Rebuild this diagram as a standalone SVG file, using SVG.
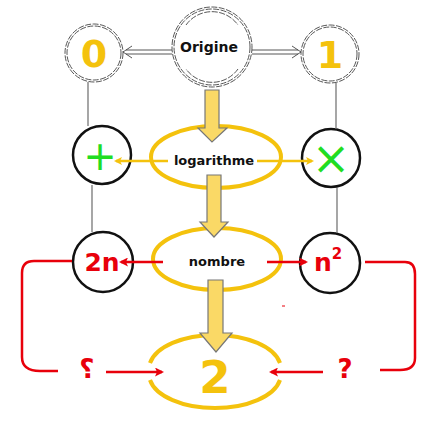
<svg xmlns="http://www.w3.org/2000/svg" width="447" height="424" viewBox="0 0 447 424">
<defs>
<style>
.dash{fill:none;stroke:#444;stroke-width:0.9;stroke-dasharray:6 1.5}
.gray{stroke:#777;stroke-width:1.3;fill:none}
.blk{fill:#fff;stroke:#111;stroke-width:2.5}
.yel{fill:none;stroke:#F4C20D;stroke-width:4}
.blockarrow{fill:#FAD966;stroke:#777;stroke-width:1.2}
.lbl{font-family:"DejaVu Sans",sans-serif;font-weight:bold;fill:#111;text-anchor:middle}
.num{font-family:"DejaVu Sans",sans-serif;font-weight:bold;fill:#F4C20D;text-anchor:middle}
.red{font-family:"DejaVu Sans",sans-serif;font-weight:bold;fill:#E8000B;text-anchor:middle}
.grn{font-family:"DejaVu Sans",sans-serif;fill:#22DD22;text-anchor:middle}
.ya{stroke:#F4C20D;stroke-width:2.5;fill:none;marker-end:url(#ymark)}
.ra{stroke:#E8000B;stroke-width:2.5;fill:none;marker-end:url(#rmark)}
.rl{stroke:#E8000B;stroke-width:2.5;fill:none}
</style>
<marker id="ymark" markerWidth="8" markerHeight="8" refX="6" refY="4" orient="auto" markerUnits="userSpaceOnUse"><path d="M0,0 L8,4 L0,8 L2,4 Z" fill="#F4C20D"/></marker>
<marker id="rmark" markerWidth="9" markerHeight="9" refX="7" refY="4.5" orient="auto" markerUnits="userSpaceOnUse"><path d="M0,0 L9,4.5 L0,9 L2,4.5 Z" fill="#E8000B"/></marker>
</defs>
<rect width="447" height="424" fill="#fff"/>
<g id="origine">
<circle class="dash" cx="212" cy="47" r="40"/>
<circle class="dash" cx="212" cy="47" r="38"/>
<path class="dash" d="M186,25 A32,32 0 0 1 238,25 M238,69 A32,32 0 0 1 186,69"/>
<text class="lbl" x="209" y="52" font-size="14">Origine</text>
</g>
<g id="zero">
<circle class="dash" cx="94" cy="53" r="29" fill="#fff"/>
<circle class="dash" cx="94" cy="53" r="27"/>
<text class="num" x="94" y="67" font-size="38">0</text>
</g>
<g id="one">
<circle class="dash" cx="330" cy="54" r="29" fill="#fff"/>
<circle class="dash" cx="330" cy="54" r="27"/>
<text class="num" x="330" y="68" font-size="38">1</text>
</g>
<g id="logarithme">
<ellipse class="yel" cx="216" cy="157" rx="65" ry="31"/>
<text class="lbl" x="214" y="165" font-size="13">logarithme</text>
</g>
<g id="plus">
<circle class="blk" cx="102" cy="155" r="29"/>
<text class="grn" x="100" y="170" font-size="40">+</text>
</g>
<g id="times">
<circle class="blk" cx="331" cy="158" r="29"/>
<text class="grn" x="331" y="174" font-size="46">×</text>
</g>
<g id="nombre">
<ellipse class="yel" cx="217" cy="259" rx="64" ry="31"/>
<text class="lbl" x="217" y="266" font-size="13">nombre</text>
</g>
<g id="deuxn">
<circle class="blk" cx="103" cy="262" r="30"/>
<text class="red" x="102" y="271" font-size="25">2n</text>
</g>
<g id="nsquare">
<circle class="blk" cx="330" cy="263" r="30"/>
<text class="red" x="328" y="271" font-size="25">n<tspan font-size="15" dy="-12">2</tspan></text>
</g>
<g id="deux">
<path class="yel" d="M150,363 A66,34 0 0 1 280,363 M280,380 A66,34 0 0 1 150,380"/>
<text class="num" x="215" y="393" font-size="45">2</text>
</g>
<g id="questions">
<text class="red" x="-87" y="378" font-size="26" transform="scale(-1,1)">?</text>
<text class="red" x="345" y="378" font-size="26">?</text>
</g>
<g id="connectors">
<line class="gray" x1="88" y1="82" x2="88" y2="126"/>
<line class="gray" x1="336" y1="83" x2="336" y2="129"/>
<line class="gray" x1="92" y1="185" x2="92" y2="232"/>
<line class="gray" x1="337" y1="188" x2="337" y2="233"/>
<path d="M172,50 L126,50 M172,54 L126,54" stroke="#444" stroke-width="0.9" fill="none"/>
<path d="M132,46 L123,52 L132,58" stroke="#444" stroke-width="0.9" fill="none"/>
<path d="M252,50 L298,50 M252,54 L298,54" stroke="#444" stroke-width="0.9" fill="none"/>
<path d="M292,46 L301,52 L292,58" stroke="#444" stroke-width="0.9" fill="none"/>
<path class="blockarrow" d="M205,90 H219 V128 H227 L212,142 L198,128 H205 Z"/>
<path class="blockarrow" d="M207,175 H221 V222 H228 L214,237 L200,222 H207 Z"/>
<path class="blockarrow" d="M208,280 H223 V333 H232 L216,352 L200,333 H208 Z"/>
<line class="ya" x1="168" y1="161" x2="116" y2="161"/>
<line class="ya" x1="257" y1="161" x2="312" y2="161"/>
<line class="ra" x1="163" y1="262" x2="121" y2="262"/>
<line class="ra" x1="267" y1="262" x2="306" y2="262"/>
<path class="rl" d="M72,261 H34 Q22,261 22,273 V357 Q22,371 40,371 H58"/>
<path class="rl" d="M365,262 H405 Q415,262 415,274 V358 Q415,370 400,370 H380"/>
<line class="ra" x1="106" y1="372" x2="162" y2="372"/>
<line class="ra" x1="323" y1="372" x2="271" y2="372"/>
<line x1="282" y1="306" x2="285" y2="306" stroke="#E8000B" stroke-width="1"/>
</g>
</svg>
